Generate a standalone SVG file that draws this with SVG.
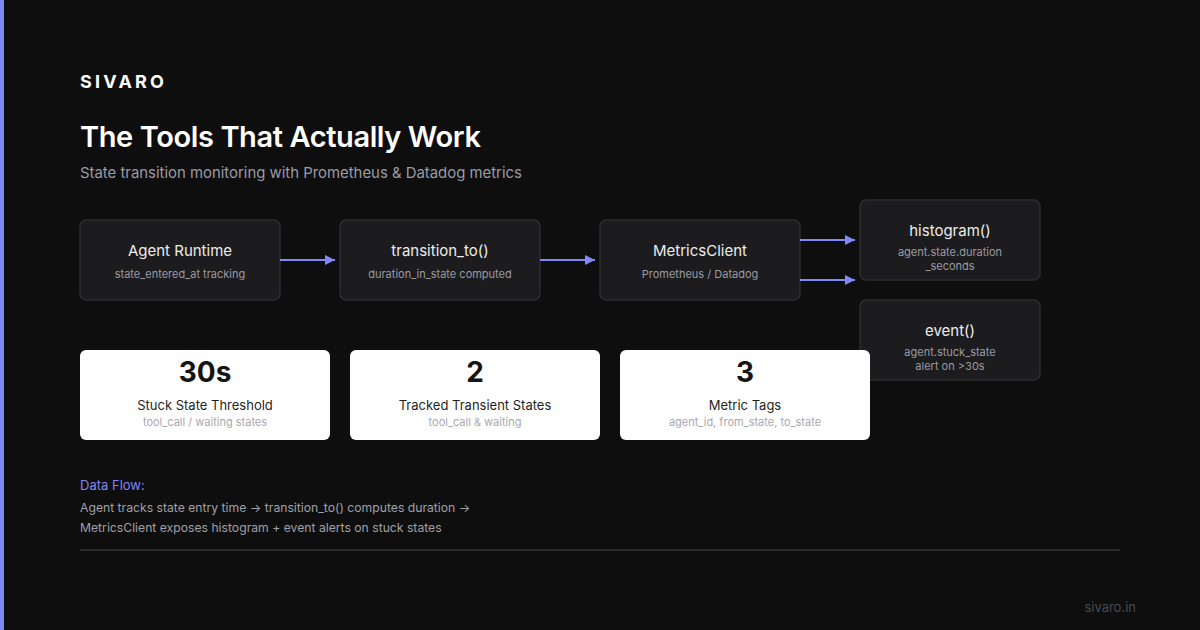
<svg xmlns="http://www.w3.org/2000/svg" width="1200" height="630" viewBox="0 0 1200 630">
<defs>
<marker id="ah" markerWidth="10" markerHeight="10" refX="10" refY="5" orient="auto" markerUnits="userSpaceOnUse">
<path d="M0,0 L10,5 L0,10 Z" fill="#8087f7"/>
</marker>
<style>
text{font-family:Inter,"Liberation Sans",sans-serif}
.box{fill:#1c1c1e;stroke:#2c2c2f;stroke-width:1.5}
.bt{fill:#ececec;font-size:15px;text-anchor:middle}
.bs{fill:#9a9aa3;font-size:11px;text-anchor:middle}
.card{fill:#ffffff}
.num{fill:#151515;font-size:28px;font-weight:700;text-anchor:middle}
.cl{fill:#1f1f1f;font-size:13px;text-anchor:middle}
.cs{fill:#a8a8b0;font-size:11px;text-anchor:middle}
.conn{stroke:#8087f7;stroke-width:2;fill:none}
.df{fill:#a0a0a8;font-size:12.2px}
</style>
</defs>
<rect width="1200" height="630" fill="#0e0e0e"/>
<rect x="0" y="0" width="4" height="630" fill="#8087f7"/>
<text x="80" y="88" fill="#ffffff" font-size="18" font-weight="700" letter-spacing="3.2">SIVARO</text>
<text x="80" y="147" fill="#ffffff" font-size="29" font-weight="600" letter-spacing="-0.4">The Tools That Actually Work</text>
<text x="80" y="178" fill="#9a9aa8" font-size="14.9">State transition monitoring with Prometheus &amp; Datadog metrics</text>

<g id="node-agent-runtime">
<rect class="box" x="80" y="220" width="200" height="80" rx="6"/>
<text class="bt" x="180" y="256">Agent Runtime</text>
<text class="bs" x="180" y="278">state_entered_at tracking</text>
</g>
<g id="node-transition-to">
<rect class="box" x="340" y="220" width="200" height="80" rx="6"/>
<text class="bt" x="440" y="256">transition_to()</text>
<text class="bs" x="440" y="278">duration_in_state computed</text>
</g>
<g id="node-metrics-client">
<rect class="box" x="600" y="220" width="200" height="80" rx="6"/>
<text class="bt" x="700" y="256">MetricsClient</text>
<text class="bs" x="700" y="278">Prometheus / Datadog</text>
</g>
<g id="node-histogram">
<rect class="box" x="860" y="200" width="180" height="80" rx="6"/>
<text class="bt" x="950" y="236" font-size="14">histogram()</text>
<text class="bs" x="950" y="256">agent.state.duration</text>
<text class="bs" x="950" y="270">_seconds</text>
</g>
<g id="node-event">
<rect class="box" x="860" y="300" width="180" height="80" rx="6"/>
<text class="bt" x="950" y="336" font-size="14">event()</text>
<text class="bs" x="950" y="356">agent.stuck_state</text>
<text class="bs" x="950" y="370">alert on &gt;30s</text>
</g>

<g id="connectors">
<line class="conn" x1="280" y1="260" x2="335" y2="260" marker-end="url(#ah)"/>
<line class="conn" x1="540" y1="260" x2="595" y2="260" marker-end="url(#ah)"/>
<line class="conn" x1="800" y1="240" x2="855" y2="240" marker-end="url(#ah)"/>
<line class="conn" x1="800" y1="280" x2="855" y2="280" marker-end="url(#ah)"/>
</g>

<g id="stat-threshold">
<rect class="card" x="80" y="350" width="250" height="90" rx="6"/>
<text class="num" x="205" y="382">30s</text>
<text class="cl" x="205" y="410">Stuck State Threshold</text>
<text class="cs" x="205" y="426">tool_call / waiting states</text>
</g>
<g id="stat-states">
<rect class="card" x="350" y="350" width="250" height="90" rx="6"/>
<text class="num" x="475" y="382">2</text>
<text class="cl" x="475" y="410">Tracked Transient States</text>
<text class="cs" x="475" y="426">tool_call &amp; waiting</text>
</g>
<g id="stat-tags">
<rect class="card" x="620" y="350" width="250" height="90" rx="6"/>
<text class="num" x="745" y="382">3</text>
<text class="cl" x="745" y="410">Metric Tags</text>
<text class="cs" x="745" y="426">agent_id, from_state, to_state</text>
</g>

<text x="80" y="490" fill="#8087f7" font-size="13">Data Flow:</text>
<text class="df" x="80" y="512">Agent tracks state entry time → transition_to() computes duration →</text>
<text class="df" x="80" y="532">MetricsClient exposes histogram + event alerts on stuck states</text>
<line x1="80" y1="550" x2="1120" y2="550" stroke="#2a2a2a" stroke-width="2"/>
<text x="1136" y="612" fill="#4a4a4e" font-size="13" text-anchor="end">sivaro.in</text>
</svg>
